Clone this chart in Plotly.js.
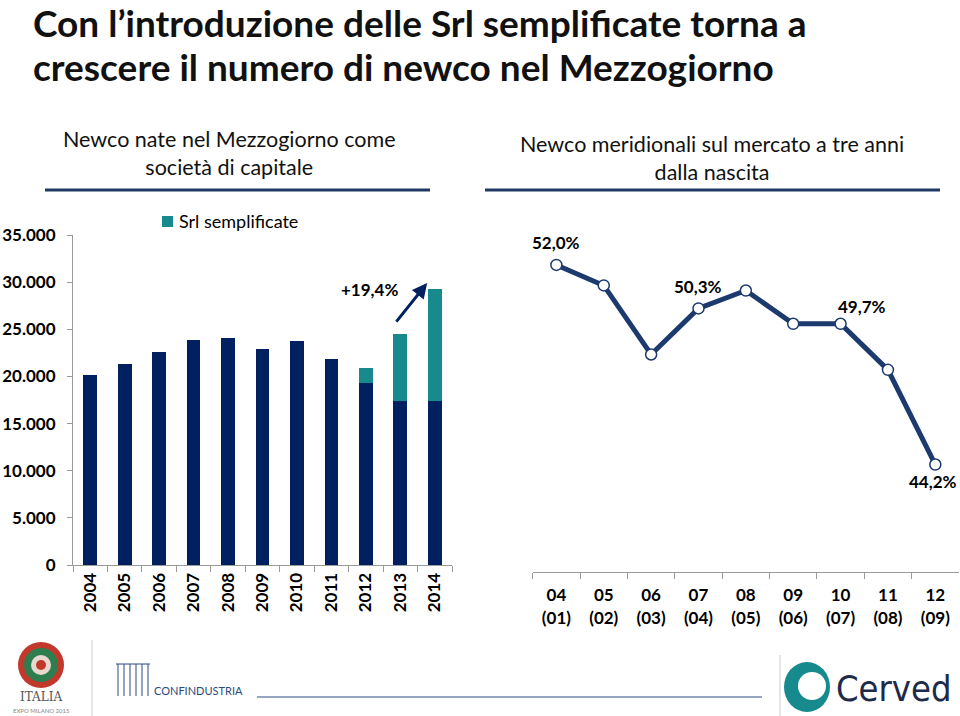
<!DOCTYPE html>
<html>
<head>
<meta charset="utf-8">
<script src="https://cdn.plot.ly/plotly-3.0.1.min.js"></script>
<style>html,body{margin:0;padding:0;background:#fff;}#chart{width:960px;height:716px;}</style>
</head>
<body>
<div id="chart"></div>
<script>
// ---- data ----
const years = ["2004","2005","2006","2007","2008","2009","2010","2011","2012","2013","2014"];
const altreSocieta = [20150, 21300, 22550, 23850, 24050, 22870, 23800, 21900, 19330, 17390, 17390];
const srlSemplificate = [0, 0, 0, 0, 0, 0, 0, 0, 1520, 7070, 11840];
const growthLabel = "+19,4%";
const legendLabel = "Srl semplificate";

const cohortLabels = ["04<br>(01)","05<br>(02)","06<br>(03)","07<br>(04)","08<br>(05)","09<br>(06)","10<br>(07)","11<br>(08)","12<br>(09)"];
const survivalPct = [52.0, 51.2, 48.5, 50.3, 51.0, 49.7, 49.7, 47.9, 44.2];
const labelledPoints = [0, 3, 6, 8];

const navy = "#002060";
const teal = "#168A8C";
const lineNavy = "#1C3A6E";
const F = "Lato, 'Open Sans', sans-serif";

function fmtPct(v){ return v.toFixed(1).replace(".", ",") + "%"; }

const traces = [
  {type:"bar", x:years, y:altreSocieta, marker:{color:navy}, name:"Società di capitale", showlegend:false, xaxis:"x", yaxis:"y", hoverinfo:"skip"},
  {type:"bar", x:years, y:srlSemplificate, marker:{color:teal}, name:legendLabel, showlegend:false, xaxis:"x", yaxis:"y", hoverinfo:"skip"},
  {type:"scatter", mode:"lines+markers", x:cohortLabels, y:survivalPct, xaxis:"x2", yaxis:"y2", showlegend:false,
   line:{color:lineNavy, width:5}, marker:{symbol:"circle", size:11, color:"#fff", line:{color:lineNavy, width:1.5}}, hoverinfo:"skip"}
];

const px = v => v/960, py = v => 1 - v/716;

const pctOffsets = {0:[0,22], 3:[0,22], 6:[21,17], 8:[-2,-17]};
const annotations = [];
labelledPoints.forEach(i => {
  annotations.push({xref:"x2", yref:"y2", x:cohortLabels[i], y:survivalPct[i], text:"<b>"+fmtPct(survivalPct[i])+"</b>",
    showarrow:false, xshift:pctOffsets[i][0], yshift:pctOffsets[i][1], font:{family:F, size:17, color:"#000"}});
});
// growth arrow
annotations.push({xref:"x", yref:"y", axref:"x", ayref:"y", x:9.78, y:29900, ax:8.85, ay:25650, text:"",
  showarrow:true, arrowhead:2, arrowsize:1, arrowwidth:3, arrowcolor:navy});
annotations.push({xref:"x", yref:"y", x:8.1, y:29250, text:"<b>"+growthLabel+"</b>", showarrow:false, font:{family:F, size:17, color:"#000"}});
// legend (manual)
annotations.push({xref:"paper", yref:"paper", x:px(177), y:py(221), xanchor:"left", yanchor:"middle", showarrow:false,
  text:legendLabel, font:{family:F, size:18, color:"#000"}});
// title
annotations.push({xref:"paper", yref:"paper", x:px(31), y:py(22), xanchor:"left", yanchor:"middle", showarrow:false,
  text:"<b>Con l’introduzione delle Srl semplificate torna a</b>", font:{family:F, size:37, color:"#111"}});
annotations.push({xref:"paper", yref:"paper", x:px(31), y:py(66), xanchor:"left", yanchor:"middle", showarrow:false,
  text:"<b>crescere il numero di newco nel Mezzogiorno</b>", font:{family:F, size:37, color:"#111"}});
// panel headers
annotations.push({xref:"paper", yref:"paper", x:px(229), y:py(153), xanchor:"center", yanchor:"middle", showarrow:false,
  text:"Newco nate nel Mezzogiorno come<br>società di capitale", font:{family:F, size:21.5, color:"#111"}});
annotations.push({xref:"paper", yref:"paper", x:px(712), y:py(158), xanchor:"center", yanchor:"middle", showarrow:false,
  text:"Newco meridionali sul mercato a tre anni<br>dalla nascita", font:{family:F, size:21.5, color:"#111"}});
// footer logos (text approximations)
annotations.push({xref:"paper", yref:"paper", x:px(41), y:py(697), xanchor:"center", yanchor:"middle", showarrow:false,
  text:"ITALIA", font:{family:"'DejaVu Serif', serif", size:12, color:"#555"}});
annotations.push({xref:"paper", yref:"paper", x:px(41), y:py(710), xanchor:"center", yanchor:"middle", showarrow:false,
  text:"EXPO MILANO 2015", font:{family:F, size:6, color:"#888"}});
annotations.push({xref:"paper", yref:"paper", x:px(152), y:py(690), xanchor:"left", yanchor:"middle", showarrow:false,
  text:"CONFINDUSTRIA", font:{family:F, size:11, color:"#2a4a80"}});
annotations.push({xref:"paper", yref:"paper", x:px(834), y:py(688), xanchor:"left", yanchor:"middle", showarrow:false,
  text:"Cerved", font:{family:"'Liberation Sans Narrow', 'DejaVu Sans Condensed', sans-serif", size:36, color:"#1d2a4a"}});

const shapes = [
  {type:"line", xref:"paper", yref:"paper", x0:px(45), x1:px(430), y0:py(190), y1:py(190), line:{color:"#1F3864", width:3}},
  {type:"line", xref:"paper", yref:"paper", x0:px(485), x1:px(940), y0:py(190), y1:py(190), line:{color:"#1F3864", width:3}},
  // legend square
  {type:"rect", xref:"paper", yref:"paper", x0:px(162), x1:px(173), y0:py(227), y1:py(216), fillcolor:teal, line:{width:0}},
  {type:"line", xref:"paper", yref:"paper", x0:px(92), x1:px(92), y0:py(640), y1:py(716), line:{color:"#ccc", width:1}},
  {type:"line", xref:"paper", yref:"paper", x0:px(257), x1:px(762), y0:py(697), y1:py(697), line:{color:"#2a4a80", width:1}},
  {type:"line", xref:"paper", yref:"paper", x0:px(780), x1:px(780), y0:py(655), y1:py(716), line:{color:"#ccc", width:1}},
  // Cerved mark
  {type:"circle", xref:"paper", yref:"paper", x0:px(784), x1:px(830), y0:py(712), y1:py(662), fillcolor:teal, line:{width:0}},
  {type:"circle", xref:"paper", yref:"paper", x0:px(798), x1:px(826), y0:py(700), y1:py(672), fillcolor:"#fff", line:{width:0}},
  // Italia mark
  {type:"circle", xref:"paper", yref:"paper", x0:px(18), x1:px(64), y0:py(688), y1:py(642), fillcolor:"#c0392b", line:{width:0}},
  {type:"circle", xref:"paper", yref:"paper", x0:px(24), x1:px(58), y0:py(682), y1:py(648), fillcolor:"#2e7d4f", line:{width:0}},
  {type:"circle", xref:"paper", yref:"paper", x0:px(31), x1:px(51), y0:py(675), y1:py(655), fillcolor:"#e8d8d0", line:{width:0}},
  {type:"circle", xref:"paper", yref:"paper", x0:px(36), x1:px(46), y0:py(670), y1:py(660), fillcolor:"#c0392b", line:{width:0}}
];
// Confindustria stylised mark
[118,124,130,136,142,148].forEach(xv => {
  shapes.push({type:"line", xref:"paper", yref:"paper", x0:px(xv), x1:px(xv), y0:py(696), y1:py(664), line:{color:"#2a4a80", width:1}});
});
shapes.push({type:"line", xref:"paper", yref:"paper", x0:px(116), x1:px(150), y0:py(664), y1:py(664), line:{color:"#2a4a80", width:1}});

const layout = {
  width:960, height:716,
  margin:{l:0, r:0, t:0, b:0},
  paper_bgcolor:"#fff", plot_bgcolor:"rgba(0,0,0,0)",
  separators:",.",
  barmode:"stack", bargap:0.6,
  font:{family:F, color:"#000"},
  showlegend:false,
  xaxis:{domain:[px(73), px(452)], anchor:"y", type:"category", range:[-0.5, 10.5], showline:true, linecolor:"#9a9a9a", linewidth:1,
    ticks:"outside", ticklen:6, tickcolor:"#9a9a9a", tickson:"boundaries", tickangle:-90, showgrid:false,
    tickfont:{family:F, size:17, color:"#000", weight:"bold"}},
  yaxis:{domain:[1-565/716, 1-235/716], anchor:"x", range:[0, 35000], dtick:5000, tickformat:",d", showline:true, linecolor:"#9a9a9a",
    ticks:"outside", ticklen:5, tickcolor:"#9a9a9a", showgrid:false, zeroline:false, ticklabelstandoff:8,
    tickfont:{family:F, size:17, color:"#000", weight:"bold"}},
  xaxis2:{domain:[px(532.7), px(959)], anchor:"y2", type:"category", range:[-0.5, 8.5], showline:true, linecolor:"#9a9a9a", linewidth:1,
    ticks:"outside", ticklen:6, tickcolor:"#9a9a9a", tickson:"boundaries", showgrid:false, tickangle:0, ticklabelstandoff:8,
    tickfont:{family:F, size:17, color:"#000", weight:"bold"}},
  yaxis2:{domain:[1-572/716, 1-235/716], anchor:"x2", range:[40, 53.17], visible:false, showgrid:false, zeroline:false},
  annotations:annotations,
  shapes:shapes
};

Plotly.newPlot("chart", traces, layout, {staticPlot:true, displayModeBar:false});
</script>
</body>
</html>
